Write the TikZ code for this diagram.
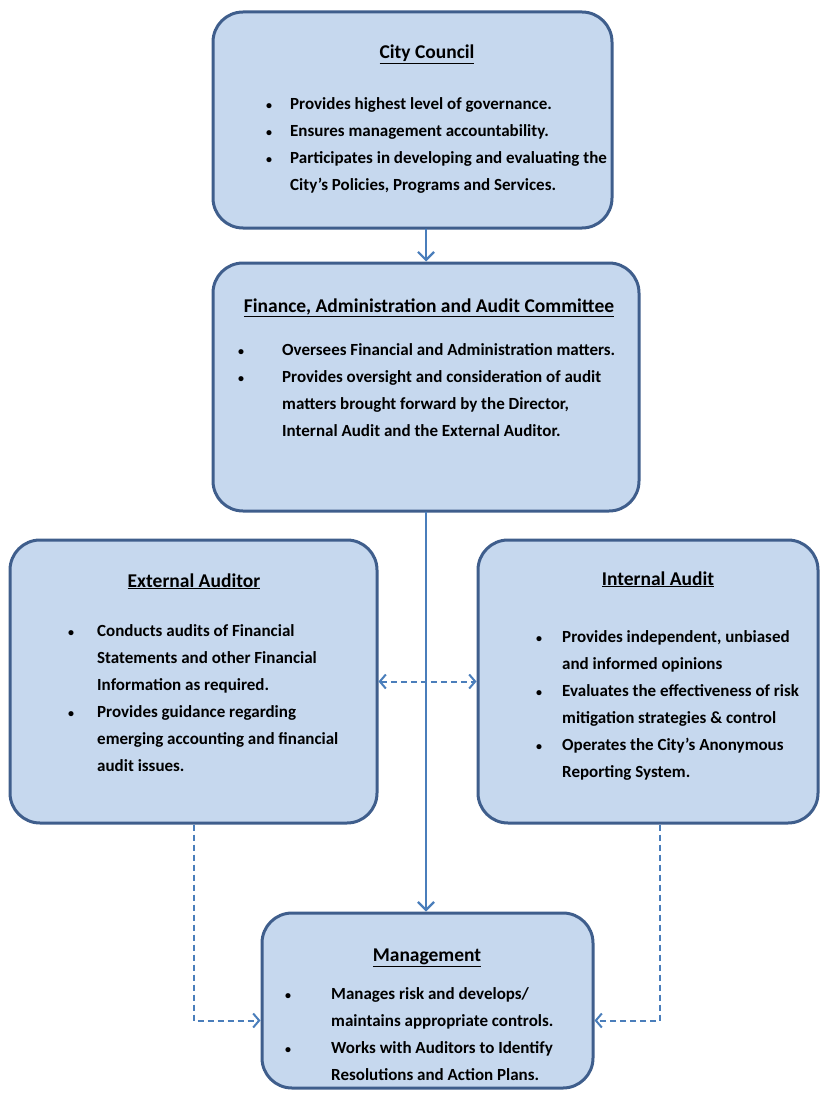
\documentclass[tikz,border=0pt]{standalone}
\usepackage{fontspec}
\setmainfont{Carlito}
\usetikzlibrary{arrows.meta}
\definecolor{boxFill}{HTML}{C6D8EE}
\definecolor{boxEdge}{HTML}{3F5E8C}
\definecolor{linkBlue}{HTML}{4A7EBB}
\newcommand{\dotmark}{{\fontsize{12}{12}\selectfont\textbullet}}

\begin{document}
\begin{tikzpicture}[x=1pt, y=-1pt, line cap=round, >={Straight Barb[length=8pt,width=16pt]}]
  \tikzset{
    panel/.style={draw=boxEdge, fill=boxFill, line width=3pt, rounded corners=30pt, inner sep=0pt},
    heading/.style={anchor=base, inner sep=0pt, font=\fontsize{19.5}{27}\selectfont\bfseries},
    notes/.style={anchor=base west, inner sep=0pt, font=\fontsize{17}{27}\selectfont\bfseries},
    link/.style={draw=linkBlue, line width=2.2pt, ->},
    dlink/.style={draw=linkBlue, line width=2pt, dash pattern=on 6pt off 4pt, line cap=butt,
      >={Straight Barb[length=6pt,width=14pt]}},
  }
  \useasboundingbox (0,0) rectangle (828,1094);

  % boxes
  \node[panel, minimum width=399pt, minimum height=216pt] (council) at (412.5,120) {};
  \node[panel, minimum width=426pt, minimum height=248pt] (finance) at (426,387) {};
  \node[panel, minimum width=367pt, minimum height=283pt] (extaudit) at (193.5,681.5) {};
  \node[panel, minimum width=340pt, minimum height=283pt] (intaudit) at (648,681.5) {};
  \node[panel, minimum width=331pt, minimum height=175pt] (mgmt) at (427.5,1000.5) {};

  % City Council
  \node[heading] (councilTitle) at (427,59) {\underline{City Council}};
  \node[notes] (councilNotes) at (266,110) {\begin{tabular}[t]{@{}p{24pt}@{}l@{}}
    \dotmark & Provides highest level of governance.\\
    \dotmark & Ensures management accountability.\\
    \dotmark & Participates in developing and evaluating the\\
      & City’s Policies, Programs and Services.
  \end{tabular}};

  % Finance, Administration and Audit Committee
  \node[heading] (financeTitle) at (429,312) {\underline{Finance, Administration and Audit Committee}};
  \node[notes] (financeNotes) at (238,355) {\begin{tabular}[t]{@{}p{44pt}@{}l@{}}
    \dotmark & Oversees Financial and Administration matters.\\
    \dotmark & Provides oversight and consideration of audit\\
      & matters brought forward by the Director,\\
      & Internal Audit and the External Auditor.
  \end{tabular}};

  % External Auditor
  \node[heading] (extTitle) at (194,587) {\underline{External Auditor}};
  \node[notes] (extNotes) at (68,636) {\begin{tabular}[t]{@{}p{29pt}@{}l@{}}
    \dotmark & Conducts audits of Financial\\
      & Statements and other Financial\\
      & Information as required.\\
    \dotmark & Provides guidance regarding\\
      & emerging accounting and financial\\
      & audit issues.
  \end{tabular}};

  % Internal Audit
  \node[heading] (intTitle) at (658,585) {\underline{Internal Audit}};
  \node[notes] (intNotes) at (536,642) {\begin{tabular}[t]{@{}p{26pt}@{}l@{}}
    \dotmark & Provides independent, unbiased\\
      & and informed opinions\\
    \dotmark & Evaluates the effectiveness of risk\\
      & mitigation strategies \& control\\
    \dotmark & Operates the City’s Anonymous\\
      & Reporting System.
  \end{tabular}};

  % Management
  \node[heading] (mgmtTitle) at (427,961) {\underline{Management}};
  \node[notes] (mgmtNotes) at (285,999) {\begin{tabular}[t]{@{}p{46pt}@{}l@{}}
    \dotmark & Manages risk and develops/\\
      & maintains appropriate controls.\\
    \dotmark & Works with Auditors to Identify\\
      & Resolutions and Action Plans.
  \end{tabular}};

  % connectors
  \draw[link] (finance.north |- council.south) -- (finance.north);
  \draw[link] (finance.south) -- (finance.south |- mgmt.north);
  \draw[dlink, <->] (extaudit.east) -- (intaudit.west);
  \draw[dlink, ->] (extaudit.south) |- ([yshift=-20pt]mgmt.west);
  \draw[dlink, ->] ([xshift=12pt]intaudit.south) |- ([yshift=-20pt]mgmt.east);
\end{tikzpicture}
\end{document}
